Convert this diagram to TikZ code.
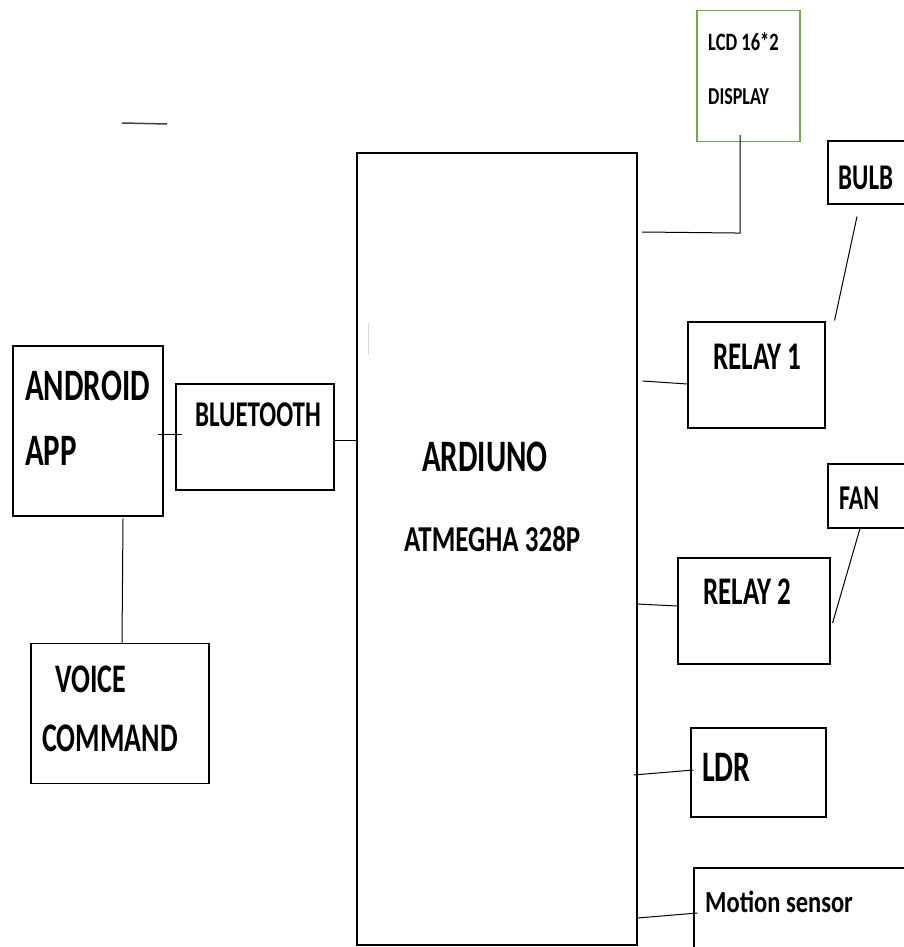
\documentclass[tikz,border=0pt]{standalone}
\usepackage{graphicx}
\usepackage{fontspec}
\setmainfont{Carlito}
\usetikzlibrary{calc}
\definecolor{lcdgreen}{RGB}{112,173,71}
\newcommand{\tx}[3][1.45]{\fontsize{#2}{#2}\selectfont\bfseries\scalebox{1}[#1]{#3}}
\begin{document}
\begin{tikzpicture}[x=1pt,y=-1pt,
  box/.style={draw, line width=1.1pt, inner sep=0pt},
  lbl/.style={anchor=west, inner sep=0pt},
  wire/.style={line width=1pt}]
\useasboundingbox (0,0) rectangle (904,947);
\clip (0,0) rectangle (904,947);
% boxes
\node[box, minimum width=280, minimum height=792] (ard) at (497,549) {};
\node[box, draw=lcdgreen, minimum width=103, minimum height=131] (lcd) at (748.5,76) {};
\node[box, minimum width=90, minimum height=63] (bulb) at (873,172.5) {};
\node[box, minimum width=137, minimum height=106] (relay1) at (756.5,375) {};
\node[box, minimum width=90, minimum height=64] (fan) at (873,496) {};
\node[box, minimum width=152, minimum height=106] (relay2) at (754,611) {};
\node[box, minimum width=135, minimum height=89] (ldr) at (758.5,772.5) {};
\node[box, minimum width=230, minimum height=120] (motion) at (809,928) {};
\node[box, minimum width=150, minimum height=170] (android) at (88,431) {};
\node[box, minimum width=158, minimum height=106] (bt) at (255,437) {};
\node[box, minimum width=178, minimum height=140] (voice) at (120,713.5) {};
% labels
\node[lbl] (t-lcd1) at (708,42) {\tx[1.35]{18.5}{LCD 16*2}};
\node[lbl] (t-lcd2) at (708,97) {\tx[1.35]{18}{DISPLAY}};
\node[lbl] (t-bulb) at (838,178) {\tx{25}{BULB}};
\node[lbl] (t-relay1) at (713,357) {\tx{27}{RELAY 1}};
\node[lbl] (t-fan) at (839,498) {\tx{24}{FAN}};
\node[lbl] (t-relay2) at (703,592) {\tx{27}{RELAY 2}};
\node[lbl] (t-ldr) at (702,767) {\tx{30}{LDR}};
\node[lbl] (t-motion) at (705,902) {\tx[1.25]{24.5}{Motion sensor}};
\node[lbl] (t-android) at (25,386) {\tx{31}{ANDROID}};
\node[lbl] (t-app) at (25,451) {\tx{31}{APP}};
\node[lbl] (t-bt) at (195,415) {\tx{25}{BLUETOOTH}};
\node[lbl] (t-voice) at (55,679) {\tx{28}{VOICE}};
\node[lbl] (t-cmd) at (42,738) {\tx{28}{COMMAND}};
\node[lbl] (t-ard) at (422,457) {\tx{31}{ARDIUNO}};
\node[lbl] (t-atm) at (404,539) {\tx[1.35]{27}{ATMEGHA 328P}};
% connectors (note: y axis points down, so a positive yshift moves up)
\coordinate (lcdend) at (642,232);
\draw[wire] ([xshift=-8.5pt,yshift=7pt]lcd.south) -- ([xshift=-8.5pt,yshift=-91pt]lcd.south) -- (lcdend);
\draw[wire] ([xshift=-16pt,yshift=-12pt]bulb.south) -- ([xshift=9pt,yshift=1pt]relay1.north east);
\draw[wire] ([xshift=5pt,yshift=-6pt]ard.east |- relay1.west) -- ([yshift=-9pt]relay1.west);
\draw[wire] ([xshift=-13pt]fan.south) -- ([xshift=2pt,yshift=-12pt]relay2.east);
\draw[wire] ([xshift=-1pt,yshift=7pt]ard.east |- relay2.west) -- ([yshift=5pt]relay2.west);
\draw[wire] ([xshift=-4pt,yshift=-2.5pt]ard.east |- ldr.west) -- ([xshift=3pt,yshift=2.5pt]ldr.west);
\draw[wire] ([yshift=10pt]ard.east |- motion.west) -- ([xshift=4pt,yshift=15pt]motion.west);
\draw[wire] ([xshift=-6pt,yshift=-3pt]android.east) -- ([xshift=7pt,yshift=3pt]bt.west);
\draw[wire] ([yshift=-3pt]bt.east) -- ([xshift=1pt,yshift=-3pt]ard.west |- bt.east);
\draw[wire] ([xshift=35pt,yshift=-2pt]android.south) -- ([xshift=2pt]voice.north);
% stray marks
\coordinate (s1) at (122,123);
\coordinate (s2) at (167,124);
\draw[line width=1.5pt, black!75] (s1) -- (s2);
\coordinate (g1) at (368,323);
\coordinate (g2) at (368,355);
\draw[line width=1pt, black!15] (g1) -- (g2);
\end{tikzpicture}
\end{document}
